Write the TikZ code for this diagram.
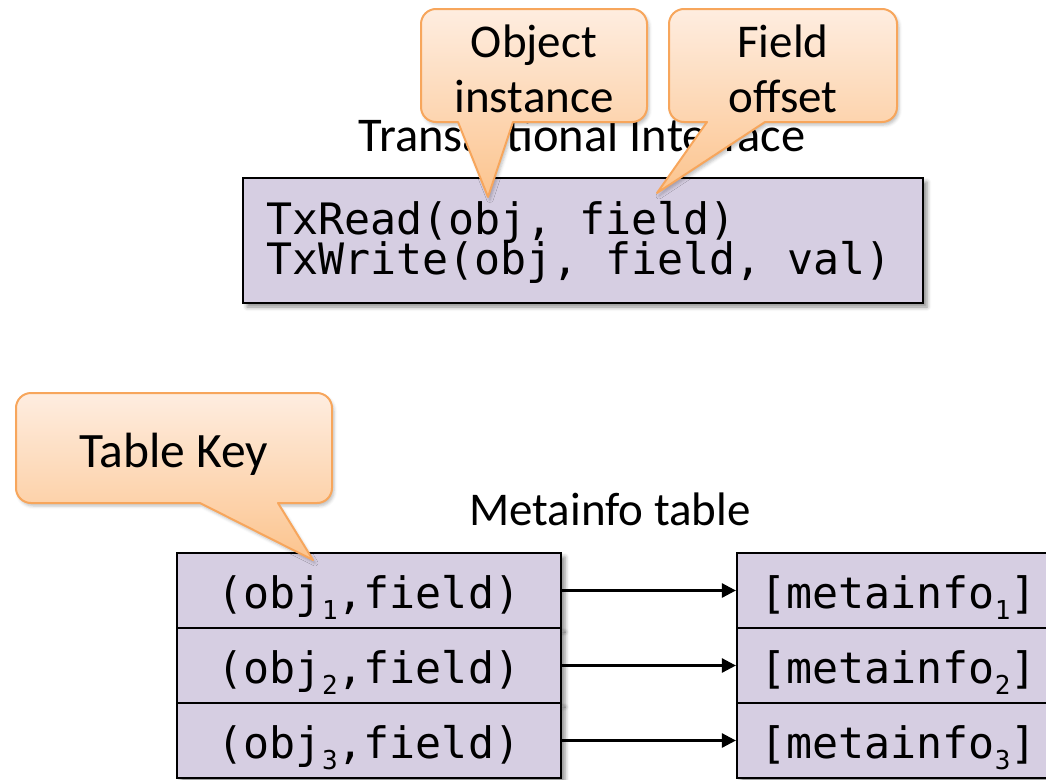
\documentclass[tikz,border=0pt]{standalone}
\usepackage{fontspec}
\setmainfont{Carlito}
\newfontfamily\codefont{DejaVu Sans Mono}
\usetikzlibrary{arrows.meta,shadows.blur}

\definecolor{boxfill}{RGB}{214,206,226}
\definecolor{calltop}{RGB}{254,237,224}
\definecolor{callbot}{RGB}{252,196,142}
\definecolor{callline}{RGB}{247,166,92}

% subscript digit in the code font
\newcommand\idx[1]{\raisebox{-11pt}{\fontsize{26}{26}\selectfont #1}}

% speech bubble: left, top, right, bottom, tail base left x, tail base right x, tip
\newcommand\bubbleshape[7]{%
  \path[bubble]
    ({#1+15},#2) -- ({#3-15},#2) .. controls ({#3-6.7},#2) and (#3,{#2+6.7}) .. (#3,{#2+15})
    -- (#3,{#4-15}) .. controls (#3,{#4-6.7}) and ({#3-6.7},#4) .. ({#3-15},#4)
    -- (#6,#4) -- (#7) -- (#5,#4)
    -- ({#1+15},#4) .. controls ({#1+6.7},#4) and (#1,{#4-6.7}) .. (#1,{#4-15})
    -- (#1,{#2+15}) .. controls (#1,{#2+6.7}) and ({#1+6.7},#2) .. ({#1+15},#2) -- cycle;}

\tikzset{
  heading/.style={font=\fontsize{47}{55}\selectfont, inner sep=0pt, anchor=base},
  calltext/.style={font=\fontsize{47}{55}\selectfont, inner sep=0pt, anchor=base},
  codetext/.style={font=\codefont\fontsize{43.3}{39}\selectfont, inner sep=0pt, anchor=base west},
  plate/.style={draw=black, line width=2.2pt, fill=boxfill,
    blur shadow={shadow xshift=4pt, shadow yshift=-4pt, shadow blur radius=4pt, shadow opacity=45}},
  tabcell/.style={plate, font=\codefont\fontsize{43.3}{50}\selectfont, minimum height=75pt,
    inner xsep=0pt, inner ysep=0pt, text height=55.5pt, text depth=19.5pt},
  bubble/.style={draw=callline, line width=2pt, line join=round, top color=calltop, bottom color=callbot,
    blur shadow={shadow xshift=2pt, shadow yshift=-3pt, shadow blur radius=3pt, shadow opacity=25}},
  maparrow/.style={line width=2.6pt, -{Triangle[length=14pt,width=14pt]}},
}

\begin{document}
\begin{tikzpicture}[x=1pt,y=-1pt]
\useasboundingbox (0,0) rectangle (1046,779);

% headings
\node[heading, font=\fontsize{48.5}{55}\selectfont] (ifacetitle) at (582,151) {Transactional Interface};
\node[heading] (tabletitle) at (610,525) {Metainfo table};

% transactional API
\node[plate, minimum width=680pt, minimum height=125pt, inner sep=0pt] (api) at (583,240.5) {};
\node[codetext] (rd) at (266,234) {TxRead(obj, field)};
\node[codetext] (wr) at (266,274) {TxWrite(obj, field, val)};

% metainfo table: keys on the left, entries on the right
\node[tabcell, minimum width=384pt] (k1) at (369,590.5) {(obj\idx{1},field)};
\node[tabcell, minimum width=384pt] (k2) at (369,665.5) {(obj\idx{2},field)};
\node[tabcell, minimum width=384pt] (k3) at (369,740.5) {(obj\idx{3},field)};
\node[tabcell, minimum width=323pt] (m1) at (898.5,590.5) {[metainfo\idx{1}]};
\node[tabcell, minimum width=323pt] (m2) at (898.5,665.5) {[metainfo\idx{2}]};
\node[tabcell, minimum width=323pt] (m3) at (898.5,740.5) {[metainfo\idx{3}]};

\draw[maparrow] (k1.east) -- (m1.west);
\draw[maparrow] (k2.east) -- (m2.west);
\draw[maparrow] (k3.east) -- (m3.west);

% callouts
\coordinate (objtip) at (488,197);
\coordinate (fldtip) at (657,193);
\coordinate (keytip) at (313,560);

\bubbleshape{421}{9}{647}{122}{458}{513}{objtip}
\node[calltext] (objA) at (534,57) {Object};
\node[calltext] (objB) at (534,112) {instance};

\bubbleshape{669}{9}{897}{122}{707}{765}{fldtip}
\node[calltext] (fldA) at (783,57) {Field};
\node[calltext] (fldB) at (783,112) {offset};

\bubbleshape{16}{393}{332}{503}{200}{278}{keytip}
\node[calltext, font=\fontsize{49.5}{55}\selectfont] (keyA) at (174,467) {Table Key};
\end{tikzpicture}
\end{document}
